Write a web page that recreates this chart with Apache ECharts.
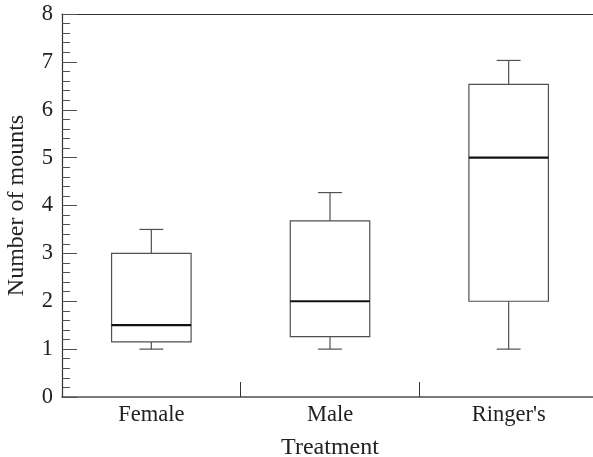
<!DOCTYPE html>
<html>
<head>
<meta charset="utf-8">
<script src="https://cdn.jsdelivr.net/npm/echarts@6/dist/echarts.min.js"></script>
<style>html,body{margin:0;padding:0;background:#fff}#c{width:593px;height:457px}</style>
</head>
<body>
<div id="c"></div>
<script>
var categories = ['Female', 'Male', "Ringer's"];
var lowWhisker = [1.0, 1.0, 1.0];
var q1 = [1.15, 1.26, 2.0];
var median = [1.5, 2.0, 5.0];
var q3 = [3.0, 3.68, 6.53];
var highWhisker = [3.5, 4.27, 7.03];
var yTicks = [0, 1, 2, 3, 4, 5, 6, 7, 8];

var FONT = 'Liberation Serif';
var TEXT = '#222';
var LINE = '#505050';

var data = categories.map(function (c, i) {
  return [i, lowWhisker[i], q1[i], median[i], q3[i], highWhisker[i]];
});

var chart = echarts.init(document.getElementById('c'), null, {renderer: 'canvas'});
chart.setOption({
  animation: false,
  grid: {left: 62, right: -5, top: 14, bottom: 60, containLabel: false, outerBoundsMode: 'none'},
  xAxis: [{
    type: 'category',
    data: categories,
    position: 'bottom',
    name: 'Treatment',
    nameLocation: 'middle',
    nameGap: 39,
    nameTextStyle: {fontFamily: FONT, fontSize: 24, color: TEXT},
    axisLine: {lineStyle: {color: LINE, width: 1.5}},
    axisTick: {show: true, inside: true, length: 15, lineStyle: {color: '#333', width: 1}},
    axisLabel: {fontFamily: FONT, fontSize: 22.5, color: TEXT, margin: 7},
    splitLine: {show: false}
  }, {
    type: 'category',
    data: categories,
    position: 'top',
    axisLine: {show: true, lineStyle: {color: '#333', width: 1.2}},
    axisTick: {show: false},
    axisLabel: {show: false}
  }],
  yAxis: {
    type: 'value',
    min: 0, max: 8, interval: 1,
    name: 'Number of mounts',
    nameLocation: 'middle',
    nameGap: 33,
    nameTextStyle: {fontFamily: FONT, fontSize: 24, color: TEXT},
    axisLine: {show: true, lineStyle: {color: '#333', width: 1.2}},
    axisTick: {show: true, inside: true, length: 15, lineStyle: {color: LINE, width: 1}},
    minorTick: {show: true, splitNumber: 5, length: 8, lineStyle: {color: LINE, width: 1}},
    axisLabel: {fontFamily: FONT, fontSize: 22.5, color: TEXT, margin: 9,
      formatter: function (v) { return yTicks.indexOf(v) >= 0 ? String(v) : ''; }},
    splitLine: {show: false}
  },
  series: [{
    type: 'custom',
    data: data,
    encode: {x: 0, y: [1, 2, 3, 4, 5]},
    renderItem: function (params, api) {
      var idx = api.value(0);
      var bw = api.size([1, 0])[0] * 0.445;
      var cw = bw * 0.3;
      var pLow = api.coord([idx, api.value(1)]);
      var pQ1 = api.coord([idx, api.value(2)]);
      var pMed = api.coord([idx, api.value(3)]);
      var pQ3 = api.coord([idx, api.value(4)]);
      var pHigh = api.coord([idx, api.value(5)]);
      var x = pMed[0];
      var ls = {stroke: LINE, lineWidth: 1.2, fill: null};
      return {
        type: 'group',
        children: [
          {type: 'rect', shape: {x: x - bw / 2, y: pQ3[1], width: bw, height: pQ1[1] - pQ3[1]}, style: {stroke: LINE, lineWidth: 1.2, fill: '#fff'}},
          {type: 'line', shape: {x1: x, y1: pQ3[1], x2: x, y2: pHigh[1]}, style: ls},
          {type: 'line', shape: {x1: x, y1: pQ1[1], x2: x, y2: pLow[1]}, style: ls},
          {type: 'line', shape: {x1: x - cw / 2, y1: pHigh[1], x2: x + cw / 2, y2: pHigh[1]}, style: ls},
          {type: 'line', shape: {x1: x - cw / 2, y1: pLow[1], x2: x + cw / 2, y2: pLow[1]}, style: ls},
          {type: 'line', shape: {x1: x - bw / 2, y1: pMed[1], x2: x + bw / 2, y2: pMed[1]}, style: {stroke: '#111', lineWidth: 2.2}}
        ]
      };
    }
  }]
});
</script>
</body>
</html>
